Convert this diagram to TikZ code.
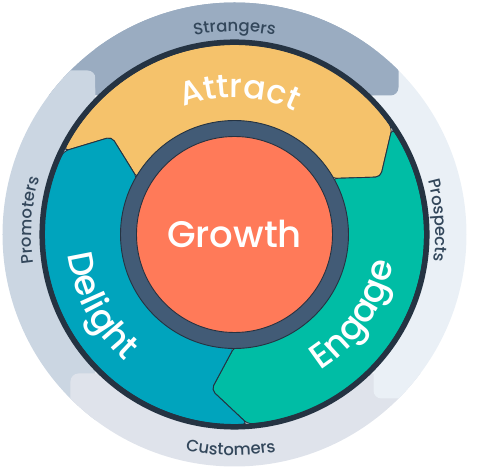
\documentclass[tikz,border=0pt]{standalone}
\usepackage{fontspec}
\setmainfont{Poppins}
\newfontfamily\stagefont{Poppins}[UprightFont=* Medium]
\usetikzlibrary{decorations.text}
\definecolor{strangerblue}{HTML}{9AACC1}
\definecolor{promoterblue}{HTML}{CBD6E2}
\definecolor{prospectblue}{HTML}{EAF0F6}
\definecolor{customerblue}{HTML}{DFE3EB}
\definecolor{rimdark}{HTML}{253342}
\definecolor{hubslate}{HTML}{425B76}
\definecolor{growthorange}{HTML}{FF7A59}
\definecolor{attractyellow}{HTML}{F5C26B}
\definecolor{engageteal}{HTML}{00BDA5}
\definecolor{delightblue}{HTML}{00A4BD}
\definecolor{bandtext}{HTML}{33475B}
\newcommand{\bandsize}{\stagefont\fontsize{16.5}{16.5}\selectfont}
\newcommand{\stagesize}{\stagefont\fontsize{35}{35}\selectfont}
\tikzset{
    bandpart/.style={
        rounded corners=8pt
    }
}
\tikzset{
    wheelpart/.style={
        draw=rimdark,
        line width=0.9pt,
        rounded corners=5pt
    }
}
\tikzset{
    bandlabel/.style={
        decorate,
        decoration={text along path, text align=center, text color=bandtext}
    }
}
\tikzset{
    stagelabel/.style={
        decorate,
        decoration={text along path, text align=center, text color=white}
    }
}

\begin{document}
\begin{tikzpicture}[x=1pt, y=1pt]

\useasboundingbox (-234.5,-238.5) rectangle (250.5,234.5);

% outer band, four stages of contacts
\begin{scope}
\clip (0,0) circle[radius=232];
\fill[bandpart, strangerblue] (-300,139) rectangle (164,300);
\fill[bandpart, promoterblue] (-300,-300) rectangle (-139,164);
\fill[bandpart, customerblue] (-164,-139) rectangle (300,-300);
\fill[bandpart, prospectblue] (139,-164) rectangle (300,300);
\fill[bandpart, strangerblue] (-139,139) rectangle (164,300);
\end{scope}

\path[bandlabel, decoration={text={|\bandsize|Strangers}}]
    (130:203) arc[start angle=130, end angle=50, radius=203];
\path[bandlabel, decoration={text={|\bandsize|Prospects}}]
    (44:201) arc[start angle=44, end angle=-36, radius=201];
\path[bandlabel, decoration={text={|\bandsize|Customers}}]
    (229:221) arc[start angle=229, end angle=309, radius=221];
\path[bandlabel, decoration={text={|\bandsize|Promoters}}]
    (216:203) arc[start angle=216, end angle=136, radius=203];

% the wheel
\filldraw[wheelpart, fill=attractyellow]
    (34:190) arc[start angle=34, end angle=154, radius=190]
    -- (141.5:157) -- (150:112)
    arc[start angle=150, end angle=30, radius=112]
    -- (21.5:157) -- cycle;
\filldraw[wheelpart, fill=engageteal]
    (274:190) arc[start angle=274, end angle=394, radius=190]
    -- (21.5:157) -- (30:112)
    arc[start angle=30, end angle=-90, radius=112]
    -- (261.5:157) -- cycle;
\filldraw[wheelpart, fill=delightblue]
    (154:190) arc[start angle=154, end angle=274, radius=190]
    -- (261.5:157) -- (270:112)
    arc[start angle=270, end angle=150, radius=112]
    -- (141.5:157) -- cycle;

\draw[rimdark, line width=5.5pt] (0,0) circle[radius=192.3];
\filldraw[fill=hubslate, draw=rimdark, line width=0.9pt] (0,0) circle[radius=114];
\filldraw[fill=growthorange, draw=rimdark, line width=0.9pt] (0,0) circle[radius=98];

\path[stagelabel, decoration={text={|\stagefont\fontsize{33}{33}\selectfont|Attract}}]
    (148:137) arc[start angle=148, end angle=28, radius=137];
\path[stagelabel, decoration={text={|\stagesize|Engage}}]
    (-94:161) arc[start angle=-94, end angle=26, radius=161];
\path[stagelabel, decoration={text={|\stagesize|Delight}}]
    (148:168) arc[start angle=148, end angle=268, radius=168];

\node[font=\stagefont\fontsize{37}{37}\selectfont, text=white] (growth) at (0,1) {Growth};

\end{tikzpicture}
\end{document}
